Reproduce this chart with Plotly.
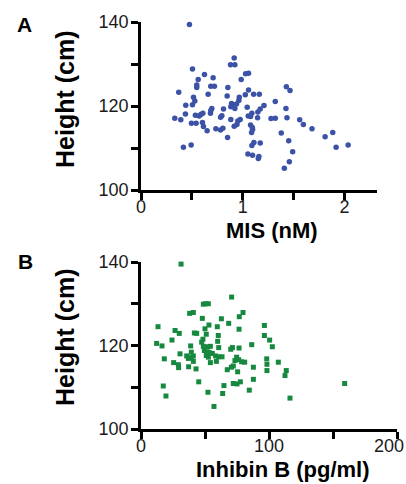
import plotly.graph_objects as go

# Panel A: MIS (nM) vs Height (cm)
mis_x = [0.476, 0.916, 0.880, 0.923, 0.506, 0.624, 1.028, 1.057, 0.709, 0.562, 0.985,
         0.548, 0.548, 0.686, 0.722, 0.854, 1.429, 1.465, 0.371, 1.057, 0.660, 0.847,
         1.025, 1.107, 1.163, 0.966, 0.516, 0.529, 0.962, 1.320, 0.440, 0.506, 0.890,
         0.906, 0.939, 1.209, 1.044, 0.696, 0.686, 0.811, 0.883, 0.923, 1.172, 1.149,
         1.425, 0.437, 0.588, 0.535, 0.571, 0.608, 0.683, 0.795, 0.782, 1.090, 1.054,
         1.077, 0.332, 0.391, 0.883, 0.975, 0.952, 1.146, 1.278, 1.320, 1.435, 1.560,
         1.596, 0.496, 0.542, 0.604, 0.614, 0.943, 0.916, 1.077, 1.094, 1.097, 0.650,
         0.736, 0.782, 0.805, 1.087, 1.379, 1.681, 1.885, 1.810, 0.851, 1.452, 1.110,
         1.090, 1.172, 0.417, 0.493, 1.918, 2.036, 1.491, 1.051, 1.097, 1.153, 1.159,
         1.458, 1.409]
mis_height = [139.4, 131.4, 129.8, 129.8, 128.8, 127.5, 127.7, 127.8, 126.7, 126.3, 126.3,
              125.0, 124.4, 124.7, 124.7, 124.4, 124.6, 123.7, 123.3, 123.8, 122.8, 122.4,
              122.7, 122.8, 122.8, 122.1, 122.1, 121.2, 121.3, 121.1, 120.2, 120.3, 120.6,
              120.2, 120.5, 120.1, 119.7, 119.4, 118.9, 119.3, 119.8, 119.4, 119.3, 118.6,
              119.4, 118.1, 118.0, 117.8, 117.6, 118.3, 118.3, 117.7, 117.3, 118.3, 117.6,
              117.5, 117.1, 116.7, 116.8, 116.8, 116.4, 117.2, 117.0, 117.1, 117.2, 116.7,
              115.6, 115.9, 115.9, 116.1, 115.1, 115.6, 115.2, 115.5, 114.9, 114.4, 114.1,
              114.6, 114.3, 114.7, 113.7, 113.6, 114.6, 113.7, 112.7, 112.5, 111.7, 111.3,
              110.6, 111.2, 110.2, 110.7, 110.2, 110.7, 109.1, 108.6, 108.3, 107.5, 108.0,
              106.7, 105.2]

# Panel B: Inhibin B (pg/ml) vs Height (cm)
inh_x = [31.3, 70.8, 48.7, 50.5, 52.6, 38.0, 40.9, 79.7, 76.8, 47.9, 62.8, 53.1, 68.5,
         13.3, 59.6, 96.4, 50.0, 76.6, 26.6, 29.9, 41.7, 43.5, 51.0, 60.4, 96.4, 24.2,
         100.5, 48.4, 47.4, 59.9, 12.2, 16.4, 86.5, 38.8, 48.7, 52.1, 54.2, 60.7, 102.6,
         70.1, 71.4, 76.6, 49.5, 51.6, 53.4, 55.7, 58.3, 60.7, 63.3, 30.5, 39.3, 35.7,
         37.0, 39.3, 40.9, 18.2, 51.0, 52.6, 74.7, 73.4, 76.3, 78.6, 98.2, 98.4, 107.3,
         25.5, 40.9, 54.2, 58.9, 81.0, 29.4, 29.2, 37.2, 43.0, 67.4, 70.6, 72.1, 75.5,
         87.8, 98.4, 113.5, 112.5, 45.1, 72.1, 75.0, 77.6, 64.8, 87.8, 159.1, 17.4, 84.6,
         52.3, 63.8, 19.5, 116.4, 57.0]
inh_height = [139.5, 131.6, 129.9, 130.0, 130.0, 127.7, 127.9, 127.9, 126.9, 126.5, 126.4,
              124.9, 125.3, 124.5, 124.5, 124.8, 124.0, 123.9, 123.6, 122.9, 123.0, 122.9,
              122.7, 122.4, 122.4, 121.3, 121.3, 121.5, 120.8, 121.0, 120.5, 119.9, 120.2,
              119.9, 119.8, 119.7, 119.8, 119.5, 119.7, 119.1, 119.5, 119.4, 118.8, 118.5,
              118.3, 118.1, 117.5, 117.3, 117.3, 118.0, 118.4, 117.5, 116.9, 117.1, 117.5,
              116.8, 117.6, 117.2, 117.2, 116.4, 116.6, 116.1, 116.8, 115.5, 116.0, 115.9,
              116.2, 115.9, 116.2, 116.0, 114.7, 115.4, 114.9, 114.4, 114.2, 114.8, 115.1,
              113.7, 114.8, 114.0, 114.0, 112.8, 111.3, 110.9, 110.8, 111.3, 110.4, 111.9,
              110.9, 110.3, 109.3, 108.8, 108.5, 107.9, 107.4, 105.4]

y_tick0, y_dtick, y_minor = 100, 20, 10
mis_dtick, mis_minor = 1, 0.5
inh_dtick, inh_minor = 100, 50
inh_last_label = "200"

FONT = "Liberation Sans, Arial, Helvetica, sans-serif"
W, H = 406, 484

fig = go.Figure()
fig.add_trace(go.Scatter(x=mis_x, y=mis_height, mode="markers", xaxis="x", yaxis="y",
                         marker=dict(symbol="circle", size=5.5, color="#3b52a6"),
                         cliponaxis=False, showlegend=False))
fig.add_trace(go.Scatter(x=inh_x, y=inh_height, mode="markers", xaxis="x2", yaxis="y2",
                         marker=dict(symbol="square", size=5, color="#17893f"),
                         cliponaxis=False, showlegend=False))

def axis(dtick, minor, tick0=0, standoff=0):
    return dict(showline=True, linecolor="#000000", linewidth=2.5, ticks="outside",
                ticklen=7, tickwidth=2.5, tickcolor="#000000", showgrid=False,
                zeroline=False, automargin=False, tickmode="linear", tick0=tick0,
                dtick=dtick, ticklabelstandoff=standoff, ticklabeloverflow="allow",
                minor=dict(tickmode="linear", tick0=tick0, dtick=minor, ticks="outside",
                           ticklen=7, tickwidth=2.5, tickcolor="#000000", showgrid=False),
                tickfont=dict(family=FONT, size=18, color="#1a1a1a"),
                fixedrange=True)

fig.update_layout(
    width=W, height=H,
    margin=dict(l=0, r=0, t=0, b=0),
    paper_bgcolor="white", plot_bgcolor="white",
    xaxis=dict(domain=[141 / W, 377 / W], range=[0, 2.32], anchor="y",
               **axis(mis_dtick, mis_minor, 0, -8)),
    yaxis=dict(domain=[1 - 190 / H, 1 - 22 / H], range=[100, 140], anchor="x",
               **axis(y_dtick, y_minor, y_tick0, -1)),
    xaxis2=dict(domain=[141 / W, 397 / W], range=[0, 200], anchor="y2",
                labelalias={inh_last_label: " "},
                **axis(inh_dtick, inh_minor, 0, -8)),
    yaxis2=dict(domain=[1 - 429 / H, 1 - 262 / H], range=[100, 140], anchor="x2",
                **axis(y_dtick, y_minor, y_tick0, -1)),
)

def ann(text, x, y, size, angle=0, color="black"):
    fig.add_annotation(text=text, x=x / W, y=1 - y / H, xref="paper", yref="paper",
                       xanchor="center", yanchor="middle", showarrow=False,
                       textangle=angle,
                       font=dict(family=FONT, size=size, color=color))

ann("<b>A</b>", 24, 25, 21)
ann("<b>B</b>", 25, 261, 21)
ann("<b>Height (cm)</b>", 65, 99, 25, -90)
ann("<b>Height (cm)</b>", 65, 337, 25, -90)
ann("<b>MIS (nM)</b>", 272, 230, 22)
ann("<b>Inhibin B (pg/ml)</b>", 283, 469, 22)
# last tick label of panel B sits just inside the right edge
ann(inh_last_label, 389, 446, 18, color="#1a1a1a")

fig.write_html("out.html", config={"displayModeBar": False},
               post_script="document.body.style.margin='0';document.body.style.overflow='hidden';")
